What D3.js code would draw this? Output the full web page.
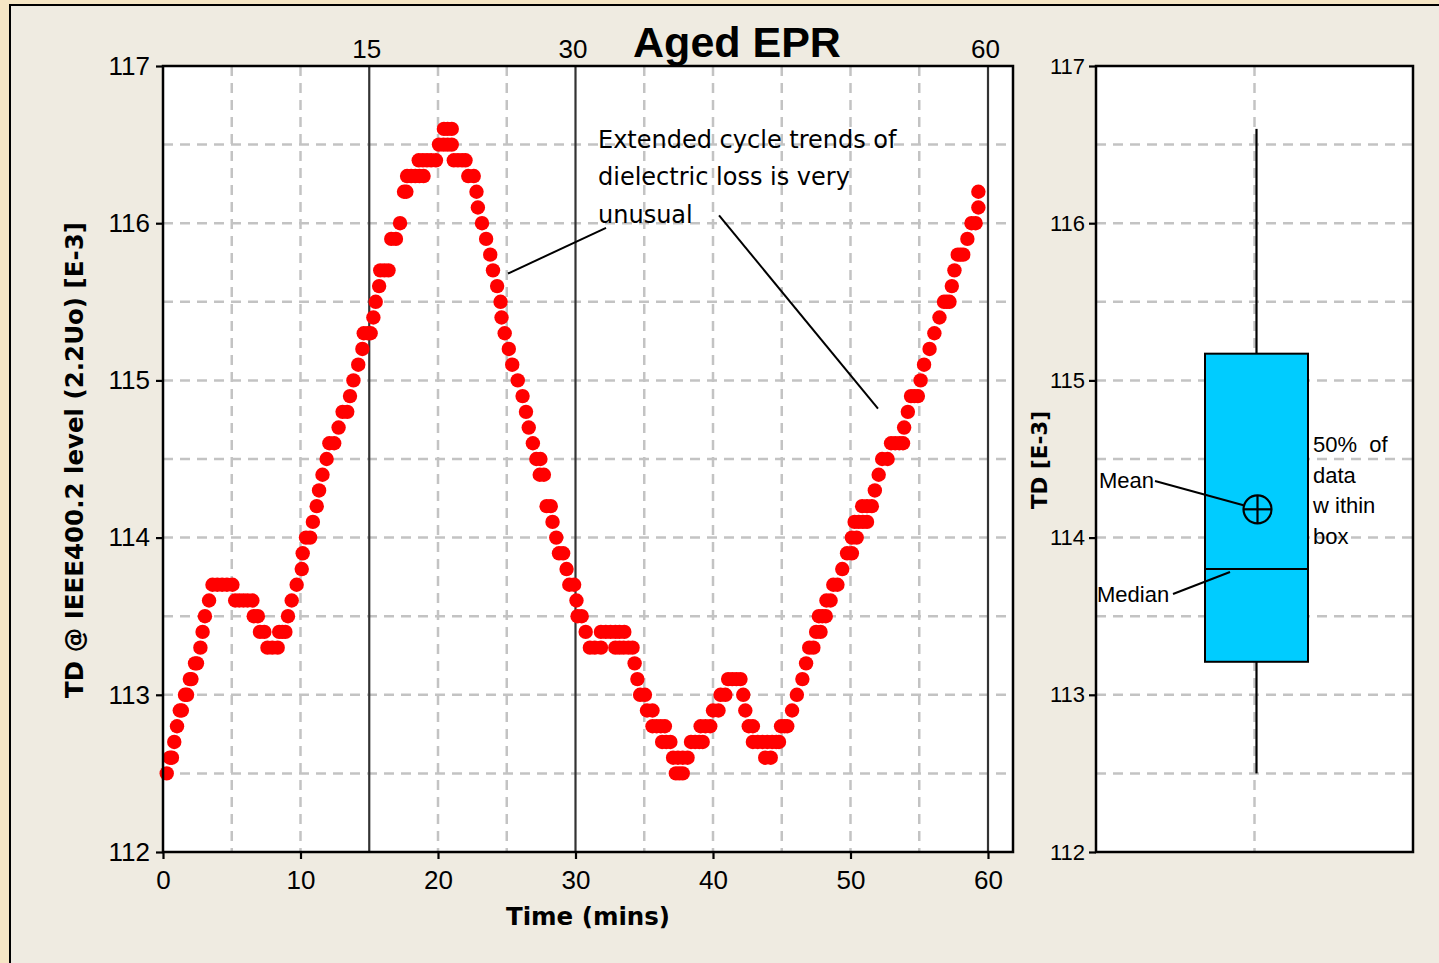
<!DOCTYPE html>
<html>
<head>
<meta charset="utf-8">
<script src="https://cdn.jsdelivr.net/npm/d3@7"></script>
<style>
  html, body { margin: 0; padding: 0; background: #f6e6c5; }
  svg { display: block; }
</style>
</head>
<body>
<svg id="chart" width="1439" height="963"></svg>
<script>
// ---------------- DATA ----------------
const chartTitle = "Aged EPR";
const xTickValues = [0, 10, 20, 30, 40, 50, 60];
const topTickValues = [15, 30, 60];
const yTickValues = [112, 113, 114, 115, 116, 117];

// time (mins) of every sample and its TD value [E-3]
const times = [
  0.27, 0.50, 0.65, 0.82, 1.02, 1.22, 1.37, 1.60, 1.75, 1.95, 2.07, 2.33, 2.47, 2.72, 2.88, 3.05, 3.35,
  3.60, 3.95, 4.30, 4.65, 5.05, 5.25, 5.55, 5.85, 6.15, 6.50, 6.60, 6.90, 7.05, 7.37,
  7.60, 7.95, 8.34, 8.45, 8.68, 8.90, 9.09, 9.36, 9.72, 10.09, 10.16, 10.40, 10.70, 10.90,
  11.18, 11.35, 11.60, 11.90, 12.10, 12.45, 12.77, 13.06, 13.40, 13.60, 13.85, 14.20, 14.50,
  14.60, 14.90, 15.10, 15.30, 15.47, 15.72, 15.80, 16.10, 16.40, 16.60, 16.94, 17.24,
  17.53, 17.70, 17.75, 18.05, 18.35, 18.65, 18.95, 18.60, 18.90, 19.20, 19.50, 19.85,
  20.07, 20.40, 20.70, 21.00, 20.43, 20.70, 21.00, 21.15, 21.45, 21.75, 22.00,
  22.20, 22.60, 22.80, 22.90, 23.20, 23.50, 23.80, 24.00, 24.30, 24.55, 24.62, 24.85,
  25.15, 25.40, 25.80, 26.15, 26.40, 26.60, 26.90, 27.15, 27.45, 27.40, 27.70,
  27.90, 28.20, 28.33, 28.60, 28.80, 29.10, 29.35, 29.55, 29.90, 30.07, 30.15, 30.45, 30.74,
  31.05, 31.40, 31.85, 31.85, 32.20, 32.55, 32.90, 33.20, 33.55, 32.90, 33.20, 33.50, 33.85, 34.15,
  34.30, 34.50, 34.70, 35.05, 35.20, 35.60, 35.60, 35.90, 36.20, 36.50, 36.30, 36.60, 36.90,
  37.10, 37.45, 37.80, 38.15, 37.30, 37.55, 37.80, 38.40, 38.70, 39.00, 39.25,
  39.10, 39.45, 39.80, 40.00, 40.40, 40.55, 40.90, 41.10, 41.40, 41.70, 42.00,
  42.20, 42.35, 42.60, 42.90, 42.90, 43.25, 43.60, 43.95, 44.30, 44.60, 44.80, 43.80, 44.20,
  44.95, 45.20, 45.40, 45.75, 46.10, 46.50, 46.77, 47.00, 47.30, 47.50, 47.82,
  47.70, 47.95, 48.20, 48.25, 48.55, 48.75, 49.05, 49.40, 49.75, 50.10, 50.10, 50.45,
  50.30, 50.60, 50.90, 51.20, 50.85, 51.20, 51.55, 51.77, 52.05, 52.30, 52.70,
  52.95, 53.25, 53.55, 53.82, 53.90, 54.17, 54.40, 54.65, 54.90, 55.10, 55.35, 55.75,
  56.10, 56.47, 56.80, 57.00, 57.20, 57.37, 57.56, 57.80, 58.00, 58.20, 58.50,
  58.80, 59.10, 59.30, 59.30
];
const tdValues = [
  112.5, 112.6, 112.6, 112.7, 112.8, 112.9, 112.9, 113.0, 113.0, 113.1, 113.1, 113.2, 113.2, 113.3, 113.4, 113.5, 113.6,
  113.7, 113.7, 113.7, 113.7, 113.7, 113.6, 113.6, 113.6, 113.6, 113.6, 113.5, 113.5, 113.4, 113.4,
  113.3, 113.3, 113.3, 113.4, 113.4, 113.4, 113.5, 113.6, 113.7, 113.8, 113.9, 114.0, 114.0, 114.1,
  114.2, 114.3, 114.4, 114.5, 114.6, 114.6, 114.7, 114.8, 114.8, 114.9, 115.0, 115.1, 115.2,
  115.3, 115.3, 115.3, 115.4, 115.5, 115.6, 115.7, 115.7, 115.7, 115.9, 115.9, 116.0,
  116.2, 116.2, 116.3, 116.3, 116.3, 116.3, 116.3, 116.4, 116.4, 116.4, 116.4, 116.4,
  116.5, 116.5, 116.5, 116.5, 116.6, 116.6, 116.6, 116.4, 116.4, 116.4, 116.4,
  116.3, 116.3, 116.2, 116.1, 116.0, 115.9, 115.8, 115.7, 115.6, 115.5, 115.4, 115.3,
  115.2, 115.1, 115.0, 114.9, 114.8, 114.7, 114.6, 114.5, 114.5, 114.4, 114.4,
  114.2, 114.2, 114.1, 114.0, 113.9, 113.9, 113.8, 113.7, 113.7, 113.6, 113.5, 113.5, 113.4,
  113.3, 113.3, 113.3, 113.4, 113.4, 113.4, 113.4, 113.4, 113.4, 113.3, 113.3, 113.3, 113.3, 113.3,
  113.2, 113.1, 113.0, 113.0, 112.9, 112.9, 112.8, 112.8, 112.8, 112.8, 112.7, 112.7, 112.7,
  112.6, 112.6, 112.6, 112.6, 112.5, 112.5, 112.5, 112.7, 112.7, 112.7, 112.7,
  112.8, 112.8, 112.8, 112.9, 112.9, 113.0, 113.0, 113.1, 113.1, 113.1, 113.1,
  113.0, 112.9, 112.8, 112.8, 112.7, 112.7, 112.7, 112.7, 112.7, 112.7, 112.7, 112.6, 112.6,
  112.8, 112.8, 112.8, 112.9, 113.0, 113.1, 113.2, 113.3, 113.3, 113.4, 113.4,
  113.5, 113.5, 113.5, 113.6, 113.6, 113.7, 113.7, 113.8, 113.9, 113.9, 114.0, 114.0,
  114.1, 114.1, 114.1, 114.1, 114.2, 114.2, 114.2, 114.3, 114.4, 114.5, 114.5,
  114.6, 114.6, 114.6, 114.6, 114.7, 114.8, 114.9, 114.9, 114.9, 115.0, 115.1, 115.2,
  115.3, 115.4, 115.5, 115.5, 115.5, 115.6, 115.7, 115.8, 115.8, 115.8, 115.9,
  116.0, 116.0, 116.1, 116.2
];

// box-plot summary
const boxStatNames = ["min", "q1", "median", "mean", "q3", "max"];
const boxStatValues = [112.5, 113.21, 113.8, 114.18, 115.17, 116.6];

const noteLines = ["Extended cycle trends of", "dielectric loss is very", "unusual"];
const boxNoteLines = ["50%  of", "data", "w ithin", "box"];

// ---------------- DRAWING ----------------
const svg = d3.select("#chart");
const box = Object.fromEntries(boxStatNames.map((n, i) => [n, boxStatValues[i]]));
const points = times.map((t, i) => ({ t, v: tdValues[i] }));

// background panel
svg.append("rect").attr("x", 10).attr("y", 5).attr("width", 1450).attr("height", 980)
  .attr("fill", "#efebe1").attr("stroke", "#000").attr("stroke-width", 2);

const plotL = 163, plotR = 1013, plotT = 66, plotB = 852;
const x = d3.scaleLinear().domain([0, (plotR - plotL) / 13.75]).range([plotL, plotR]);
const y = d3.scaleLinear().domain([112, 117]).range([plotB, plotT]);

const gridColor = "#c3c3c3";
const tickFont = "'Liberation Sans', Arial, sans-serif";

// ---- main panel
const main = svg.append("g");
main.append("rect").attr("x", plotL).attr("y", plotT).attr("width", plotR - plotL).attr("height", plotB - plotT).attr("fill", "#fff");

// horizontal grid
main.append("g").selectAll("line").data(d3.range(112.5, 117, 0.5)).join("line")
  .attr("x1", plotL).attr("x2", plotR).attr("y1", d => y(d)).attr("y2", d => y(d))
  .attr("stroke", gridColor).attr("stroke-width", 2.5).attr("stroke-dasharray", "10,7");
// vertical grid every 5 mins
main.append("g").selectAll("line").data(d3.range(5, 60, 5).filter(d => !topTickValues.includes(d))).join("line")
  .attr("x1", d => x(d)).attr("x2", d => x(d)).attr("y1", plotT).attr("y2", plotB)
  .attr("stroke", gridColor).attr("stroke-width", 2.5).attr("stroke-dasharray", "10,7");
// solid reference lines
main.append("g").selectAll("line").data(topTickValues).join("line")
  .attr("x1", d => x(d)).attr("x2", d => x(d)).attr("y1", plotT).attr("y2", plotB)
  .attr("stroke", "#333").attr("stroke-width", 2.2);

// points
main.append("g").selectAll("circle").data(points).join("circle")
  .attr("cx", d => x(d.t)).attr("cy", d => y(d.v)).attr("r", 7.2).attr("fill", "#ff0000");

// frame
main.append("rect").attr("x", plotL).attr("y", plotT).attr("width", plotR - plotL).attr("height", plotB - plotT)
  .attr("fill", "none").attr("stroke", "#000").attr("stroke-width", 2.5);

// axes
function styleAxis(g, size) {
  g.select(".domain").remove();
  g.selectAll(".tick line").attr("stroke", "#000").attr("stroke-width", 2.2);
  g.selectAll(".tick text").attr("font-family", tickFont).attr("font-size", size).attr("fill", "#000");
}
main.append("g").attr("transform", `translate(${plotL},0)`)
  .call(d3.axisLeft(y).tickValues(yTickValues).tickSize(7).tickPadding(6).tickFormat(d3.format("d")))
  .call(g => styleAxis(g, 26));
main.append("g").attr("transform", `translate(0,${plotB})`)
  .call(d3.axisBottom(x).tickValues(xTickValues).tickSize(7).tickPadding(12).tickFormat(d3.format("d")))
  .call(g => styleAxis(g, 26));
main.append("g").attr("transform", `translate(0,${plotT})`)
  .call(d3.axisTop(x).tickValues(topTickValues).tickSize(0).tickPadding(8).tickFormat(d3.format("d")))
  .call(g => styleAxis(g, 26))
  .call(g => g.selectAll(".tick text").attr("dx", -3));

// titles
svg.append("text").attr("x", 737).attr("y", 57).attr("text-anchor", "middle")
  .attr("font-family", tickFont).attr("font-weight", "bold").attr("font-size", 43).text(chartTitle);
svg.append("text").attr("x", 588).attr("y", 925).attr("text-anchor", "middle")
  .attr("font-family", "'DejaVu Sans', sans-serif").attr("font-weight", "bold").attr("font-size", 24.5)
  .text("Time (mins)");
svg.append("text").attr("transform", "translate(83,460) rotate(-90)").attr("text-anchor", "middle")
  .attr("font-family", "'DejaVu Sans', sans-serif").attr("font-weight", "bold").attr("font-size", 24.5)
  .text("TD @ IEEE400.2 level (2.2Uo) [E-3]");

// annotation
const note = svg.append("g").attr("font-family", "'DejaVu Sans', sans-serif").attr("font-size", 24).attr("fill", "#000");
noteLines.forEach((s, i) => note.append("text").attr("x", 598).attr("y", 148 + i * 37.3).text(s));
const noteLinks = [[[32.22, 115.97], [25.09, 115.68]], [[40.44, 116.05], [52.0, 114.82]]];
note.selectAll("line").data(noteLinks).join("line")
  .attr("x1", d => x(d[0][0])).attr("y1", d => y(d[0][1]))
  .attr("x2", d => x(d[1][0])).attr("y2", d => y(d[1][1]))
  .attr("stroke", "#000").attr("stroke-width", 2);

// ---- box panel
const bL = 1096, bR = 1413;
const bx = d3.scalePoint().domain(["TD"]).range([bL, bR]).padding(0.5);
const bc = bx("TD") + 2;
const bp = svg.append("g");
bp.append("rect").attr("x", bL).attr("y", plotT).attr("width", bR - bL).attr("height", plotB - plotT).attr("fill", "#fff");
bp.append("g").selectAll("line").data(d3.range(112.5, 117, 0.5)).join("line")
  .attr("x1", bL).attr("x2", bR).attr("y1", d => y(d)).attr("y2", d => y(d))
  .attr("stroke", gridColor).attr("stroke-width", 2.5).attr("stroke-dasharray", "10,7");
bp.append("line").attr("x1", bc - 2).attr("x2", bc - 2).attr("y1", plotT).attr("y2", plotB)
  .attr("stroke", gridColor).attr("stroke-width", 2.5).attr("stroke-dasharray", "10,7");

// whiskers
bp.append("line").attr("x1", bc).attr("x2", bc).attr("y1", y(box.max)).attr("y2", y(box.q3))
  .attr("stroke", "#000").attr("stroke-width", 2.2);
bp.append("line").attr("x1", bc).attr("x2", bc).attr("y1", y(box.q1)).attr("y2", y(box.min))
  .attr("stroke", "#000").attr("stroke-width", 2.2);
// box
const halfW = 51.5;
bp.append("rect").attr("x", bc - halfW).attr("width", 2 * halfW).attr("y", y(box.q3)).attr("height", y(box.q1) - y(box.q3))
  .attr("fill", "#00ccff").attr("stroke", "#000").attr("stroke-width", 2);
bp.append("line").attr("x1", bc - halfW).attr("x2", bc + halfW).attr("y1", y(box.median)).attr("y2", y(box.median))
  .attr("stroke", "#000").attr("stroke-width", 2);
// mean symbol
const my = y(box.mean), mr = 14;
bp.append("circle").attr("cx", bc + 1).attr("cy", my).attr("r", mr).attr("fill", "none").attr("stroke", "#000").attr("stroke-width", 2.2);
bp.append("line").attr("x1", bc + 1 - mr).attr("x2", bc + 1 + mr).attr("y1", my).attr("y2", my).attr("stroke", "#000").attr("stroke-width", 2.2);
bp.append("line").attr("x1", bc + 1).attr("x2", bc + 1).attr("y1", my - mr).attr("y2", my + mr).attr("stroke", "#000").attr("stroke-width", 2.2);

bp.append("rect").attr("x", bL).attr("y", plotT).attr("width", bR - bL).attr("height", plotB - plotT)
  .attr("fill", "none").attr("stroke", "#000").attr("stroke-width", 2.5);
bp.append("g").attr("transform", `translate(${bL},0)`)
  .call(d3.axisLeft(y).tickValues(yTickValues).tickSize(7).tickPadding(4).tickFormat(d3.format("d")))
  .call(g => styleAxis(g, 22));

svg.append("text").attr("transform", "translate(1047,460) rotate(-90)").attr("text-anchor", "middle")
  .attr("font-family", "'DejaVu Sans', sans-serif").attr("font-weight", "bold").attr("font-size", 21.5)
  .text("TD [E-3]");

// box annotations
const bn = svg.append("g").attr("font-family", tickFont).attr("font-size", 22).attr("fill", "#000");
boxNoteLines.forEach((s, i) => bn.append("text").attr("x", 1313).attr("y", 451.7 + i * 30.8).attr("xml:space", "preserve").text(s));
bn.append("text").attr("x", 1099).attr("y", 488).text("Mean");
bn.append("text").attr("x", 1097).attr("y", 602).text("Median");
bn.append("line").attr("x1", 1155).attr("y1", 481).attr("x2", bc + 1 - mr).attr("y2", my - 4)
  .attr("stroke", "#000").attr("stroke-width", 2);
bn.append("line").attr("x1", 1173).attr("y1", 594).attr("x2", 1230).attr("y2", y(box.median) + 3)
  .attr("stroke", "#000").attr("stroke-width", 2);
</script>
</body>
</html>
